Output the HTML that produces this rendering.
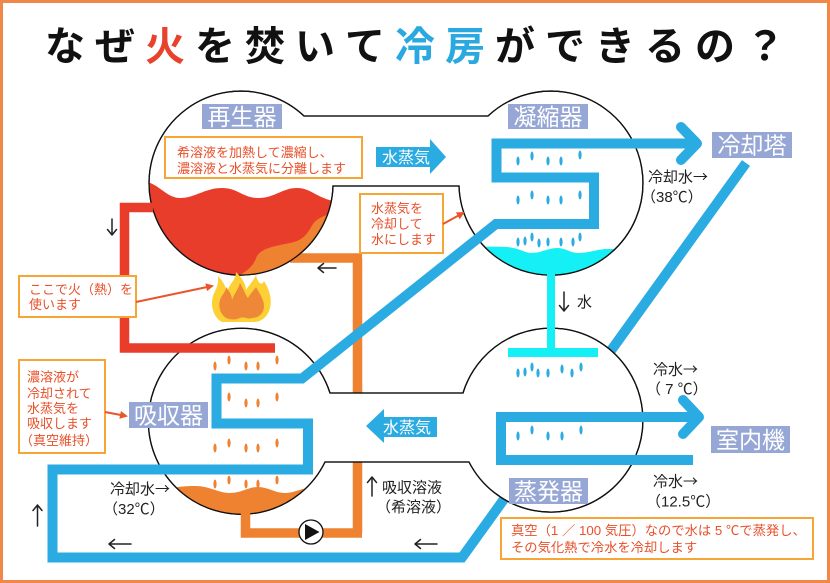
<!DOCTYPE html>
<html><head><meta charset="utf-8">
<style>
html,body{margin:0;padding:0;background:#fff;}
svg{display:block;}
text{font-family:"Liberation Sans","Noto Sans CJK JP",sans-serif;}
.cj{font-family:"Noto Sans CJK JP","Liberation Sans",sans-serif;}
</style></head>
<body>
<svg width="830" height="583" viewBox="0 0 830 583" xmlns="http://www.w3.org/2000/svg">
<defs>
  <clipPath id="c1"><circle cx="241" cy="183" r="92"/></clipPath>
  <clipPath id="c2"><circle cx="551" cy="183" r="92"/></clipPath>
  <clipPath id="c3"><circle cx="241" cy="421" r="93"/></clipPath>
  <marker id="ah" markerWidth="8" markerHeight="8" refX="6" refY="4" orient="auto" markerUnits="userSpaceOnUse">
    <path d="M0,0 L8,4 L0,8 Z" fill="#EA552B"/>
  </marker>
</defs>

<rect x="1.5" y="1.5" width="827" height="580" fill="#fff" stroke="#F0884A" stroke-width="3"/>

<!-- title -->
<g font-size="40" font-weight="bold" fill="#111">
  <text x="45" y="60">な</text>
  <text x="95" y="60">ぜ</text>
  <text x="145" y="60" fill="#E8412C">火</text>
  <text x="195" y="60">を</text>
  <text x="245" y="60">焚</text>
  <text x="295" y="60">い</text>
  <text x="345" y="60">て</text>
  <text x="395" y="60" fill="#2AA9E0">冷</text>
  <text x="445" y="60" fill="#2AA9E0">房</text>
  <text x="495" y="60">が</text>
  <text x="545" y="60">で</text>
  <text x="595" y="60">き</text>
  <text x="645" y="60">る</text>
  <text x="695" y="60">の</text>
  <text x="745" y="60">？</text>
</g>

<!-- pipes drawn behind vessels -->
<path d="M746,163 L462,557.5 L52.5,557.5 L52.5,469.5 L150,469.5" fill="none" stroke="#2AABE2" stroke-width="10" stroke-linejoin="miter"/>
<path d="M357.5,258 L357.5,533" fill="none" stroke="#EE8230" stroke-width="9.5"/>

<!-- vessel shapes -->
<path d="M304,116 L488,116 A92,92 0 1 1 459,186 L333,186 A92,92 0 1 1 304,116 Z" fill="#fff" stroke="#111" stroke-width="1.3"/>
<path d="M330,393 L463,393 A92,92 0 1 1 469,462 L325,462 A93,93 0 1 1 330,393 Z" fill="#fff" stroke="#111" stroke-width="1.3"/>

<!-- liquids -->
<g clip-path="url(#c1)">
  <path d="M140,181 C158,181 165,198 180,198 C195,198 205,188 222,188 C238,188 243,198 258,198 C275,198 282,188 297,188 C312,188 318,200 340,202 L340,290 L140,290 Z" fill="#E83D2B"/>
  <path d="M340,212 C330,213 318,217 313,224 C308,232 305,240 290,243 C275,246 262,248 257,256 C254,264 250,270 236,277 L225,290 L340,290 Z" fill="#EE8230"/>
</g>
<g clip-path="url(#c2)">
  <path d="M455,250 C470,247 490,246 507,247 C520,248 524,253 532,253 C541,253 548,248 557,248 C566,248 570,253 578,253 C588,253 595,250 605,249 L650,249 L650,290 L455,290 Z" fill="#14F0F5"/>
</g>
<g clip-path="url(#c3)">
  <path d="M140,491 C165,490 175,486 195,486 C210,486 218,493 230,493 C242,493 248,487 258,487 C268,487 275,493 285,493 C295,493 300,488 312,488 L340,488 L340,520 L140,520 Z" fill="#EE8230"/>
</g>

<!-- top orange pipe stub into regenerator -->
<path d="M290,258 L362,258" fill="none" stroke="#EE8230" stroke-width="9.5"/>

<!-- outline redraw -->
<path d="M304,116 L488,116 A92,92 0 1 1 459,186 L333,186 A92,92 0 1 1 304,116 Z" fill="none" stroke="#111" stroke-width="1.3"/>
<path d="M330,393 L463,393 A92,92 0 1 1 469,462 L325,462 A93,93 0 1 1 330,393 Z" fill="none" stroke="#111" stroke-width="1.3"/>

<!-- orange outlet + pump -->
<path d="M245.5,505 L245.5,533 L362,533" fill="none" stroke="#EE8230" stroke-width="9.5"/>
<circle cx="311" cy="532" r="12" fill="#fff" stroke="#111" stroke-width="1.3"/>
<polygon points="305,524 305,540 319.5,532" fill="#111"/>

<!-- red pipe -->
<path d="M153,207.5 L124.5,207.5 L124.5,348 L275,348" fill="none" stroke="#E83D2B" stroke-width="9.5"/>

<!-- blue cooling pipe -->
<path d="M140,469.5 L308,469.5 L308,423.5 L216.5,423.5 L216.5,378.5 L302,378.5 L496,224 L594,224 L594,177.5 L496.5,177.5 L496.5,143.5 L697,143.5" fill="none" stroke="#2AABE2" stroke-width="10" stroke-linejoin="miter"/>
<path d="M681,127 L697,143.5 L681,160" fill="none" stroke="#2AABE2" stroke-width="10" stroke-linecap="round" stroke-linejoin="round"/>

<!-- chilled water -->
<path d="M693,460 L501,460 L501,417 L698,417" fill="none" stroke="#2AABE2" stroke-width="10"/>
<path d="M683,400 L699,417 L683,434" fill="none" stroke="#2AABE2" stroke-width="10" stroke-linecap="round" stroke-linejoin="round"/>

<!-- cyan condensate -->
<rect x="547" y="255" width="8" height="98" fill="#14F0F5"/>
<rect x="508" y="348" width="90" height="9" fill="#14F0F5"/>

<!-- drops blue -->
<g fill="#2AABE2">
  <ellipse cx="518" cy="161" rx="1.6" ry="4.5"/><ellipse cx="532" cy="156" rx="1.6" ry="4.5"/><ellipse cx="548" cy="161" rx="1.6" ry="4.5"/><ellipse cx="561" cy="161" rx="1.6" ry="4.5"/><ellipse cx="580" cy="155" rx="1.6" ry="4.5"/>
  <ellipse cx="518" cy="200" rx="1.6" ry="4.5"/><ellipse cx="532" cy="195" rx="1.6" ry="4.5"/><ellipse cx="548" cy="200" rx="1.6" ry="4.5"/><ellipse cx="561" cy="200" rx="1.6" ry="4.5"/><ellipse cx="580" cy="195" rx="1.6" ry="4.5"/>
  <ellipse cx="518" cy="242" rx="1.6" ry="4.5"/><ellipse cx="525" cy="241" rx="1.6" ry="4.5"/><ellipse cx="532" cy="237" rx="1.6" ry="4.5"/><ellipse cx="539" cy="243" rx="1.6" ry="4.5"/><ellipse cx="548" cy="242" rx="1.6" ry="4.5"/><ellipse cx="561" cy="242" rx="1.6" ry="4.5"/><ellipse cx="573" cy="242" rx="1.6" ry="4.5"/><ellipse cx="580" cy="237" rx="1.6" ry="4.5"/>
  <ellipse cx="518" cy="373" rx="1.6" ry="4.5"/><ellipse cx="525" cy="372" rx="1.6" ry="4.5"/><ellipse cx="532" cy="367" rx="1.6" ry="4.5"/><ellipse cx="538" cy="373" rx="1.6" ry="4.5"/><ellipse cx="548" cy="373" rx="1.6" ry="4.5"/><ellipse cx="562" cy="369" rx="1.6" ry="4.5"/><ellipse cx="572" cy="373" rx="1.6" ry="4.5"/><ellipse cx="581" cy="367" rx="1.6" ry="4.5"/>
  <ellipse cx="518" cy="436" rx="1.6" ry="4.5"/><ellipse cx="532" cy="430" rx="1.6" ry="4.5"/><ellipse cx="548" cy="436" rx="1.6" ry="4.5"/><ellipse cx="562" cy="436" rx="1.6" ry="4.5"/><ellipse cx="581" cy="430" rx="1.6" ry="4.5"/>
</g>
<!-- drops orange -->
<g fill="#EE8230">
  <ellipse cx="215" cy="366" rx="1.6" ry="4.5"/><ellipse cx="229" cy="360" rx="1.6" ry="4.5"/><ellipse cx="246" cy="366" rx="1.6" ry="4.5"/><ellipse cx="258" cy="366" rx="1.6" ry="4.5"/><ellipse cx="277" cy="360" rx="1.6" ry="4.5"/>
  <ellipse cx="229" cy="397" rx="1.6" ry="4.5"/><ellipse cx="246" cy="403" rx="1.6" ry="4.5"/><ellipse cx="258" cy="403" rx="1.6" ry="4.5"/><ellipse cx="277" cy="397" rx="1.6" ry="4.5"/>
  <ellipse cx="215" cy="448" rx="1.6" ry="4.5"/><ellipse cx="229" cy="443" rx="1.6" ry="4.5"/><ellipse cx="246" cy="448" rx="1.6" ry="4.5"/><ellipse cx="258" cy="448" rx="1.6" ry="4.5"/><ellipse cx="277" cy="443" rx="1.6" ry="4.5"/>
  <ellipse cx="215" cy="484" rx="1.6" ry="4.5"/><ellipse cx="229" cy="480" rx="1.6" ry="4.5"/><ellipse cx="246" cy="484" rx="1.6" ry="4.5"/><ellipse cx="258" cy="484" rx="1.6" ry="4.5"/><ellipse cx="277" cy="480" rx="1.6" ry="4.5"/>
</g>

<!-- flame -->
<path d="M222,322 C214,318 210,306 213,296 C215,290 219,286 218,276 C224,282 226,288 227,292 C229,284 236,280 236,272 C242,278 246,284 246,290 C250,284 254,280 256,275 C258,284 262,286 264,281 C270,290 272,300 270,308 C268,316 262,322 254,322 Z" fill="#FDD135"/>
<path d="M226,318 C220,314 218,306 220,300 C222,294 226,292 226,287 C230,292 232,296 232,300 C234,294 238,290 240,283 C244,290 246,296 248,298 C250,294 254,290 256,287 C260,294 264,300 264,306 C264,314 258,318 252,318 C248,320 244,316 240,318 C236,320 230,320 226,318 Z" fill="#EE8838"/>

<!-- steam arrows -->
<rect x="376" y="147" width="55" height="20" fill="#2AABE2"/>
<polygon points="430,139 446,157 430,174" fill="#2AABE2"/>
<text x="406" y="163" font-size="16" fill="#fff" text-anchor="middle">水蒸気</text>
<rect x="382" y="417" width="55" height="20" fill="#2AABE2"/>
<polygon points="384,409 366,426 384,443" fill="#2AABE2"/>
<text x="407" y="433" font-size="16" fill="#fff" text-anchor="middle">水蒸気</text>

<!-- labels -->
<g font-size="23" fill="#fff" text-anchor="middle">
  <rect x="202" y="104" width="80" height="25" fill="#97A7D5"/><text x="242" y="125">再生器</text>
  <rect x="508" y="104" width="80" height="25" fill="#97A7D5"/><text x="548" y="125">凝縮器</text>
  <rect x="712" y="132" width="80" height="26" fill="#97A7D5"/><text x="752" y="153.5">冷却塔</text>
  <rect x="129" y="402" width="79" height="26" fill="#97A7D5"/><text x="168.5" y="423.5">吸収器</text>
  <rect x="509" y="478" width="79" height="26" fill="#97A7D5"/><text x="548.5" y="499.5">蒸発器</text>
  <rect x="711" y="426" width="79" height="27" fill="#97A7D5"/><text x="750.5" y="448">室内機</text>
</g>

<!-- orange note boxes -->
<g fill="#fff" stroke="#F7A535" stroke-width="2">
  <rect x="165" y="137" width="197" height="41"/>
  <rect x="360" y="194" width="83" height="59"/>
  <rect x="19" y="276" width="117" height="41"/>
  <rect x="19" y="360" width="86" height="93"/>
  <rect x="501" y="518" width="312" height="41"/>
</g>
<g font-size="13" fill="#E8502A">
  <text x="177" y="157">希溶液を加熱して濃縮し、</text>
  <text x="177" y="173">濃溶液と水蒸気に分離します</text>
  <text x="371" y="213">水蒸気を</text>
  <text x="371" y="228.5">冷却して</text>
  <text x="371" y="244">水にします</text>
  <text x="29" y="294">ここで火（熱）を</text>
  <text x="29" y="309">使います</text>
  <text x="27" y="381.5">濃溶液が</text>
  <text x="27" y="398">冷却されて</text>
  <text x="27" y="413">水蒸気を</text>
  <text x="27" y="428">吸収します</text>
  <text x="20" y="445">（真空維持）</text>
  <text x="511" y="535" font-size="13.3">真空（1 ／ 100 気圧）なので水は 5 ℃で蒸発し、</text>
  <text x="511" y="552" font-size="13.3">その気化熱で冷水を冷却します</text>
</g>

<!-- note pointer arrows -->
<g stroke="#EA552B" stroke-width="2" fill="none">
  <line x1="136" y1="302" x2="212" y2="286" marker-end="url(#ah)"/>
  <line x1="443" y1="224" x2="463" y2="213" marker-end="url(#ah)"/>
  <line x1="105" y1="412" x2="126" y2="416" marker-end="url(#ah)"/>
</g>

<!-- black flow arrows -->
<g stroke="#222" stroke-width="1.5" fill="none" stroke-linecap="round" stroke-linejoin="round">
  <path d="M112,219 L112,235 M107.5,229.5 L112,235 L116.5,229.5"/>
  <path d="M336,268 L318,268 M323.5,263.5 L318,268 L323.5,272.5"/>
  <path d="M564,292 L564,311 M559.5,305.5 L564,311 L568.5,305.5"/>
  <path d="M37.5,526 L37.5,505 M33,510.5 L37.5,505 L42,510.5"/>
  <path d="M131,544 L109,544 M114.5,539.5 L109,544 L114.5,548.5"/>
  <path d="M437,544 L415,544 M420.5,539.5 L415,544 L420.5,548.5"/>
  <path d="M372,496 L372,477 M367.5,482.5 L372,477 L376.5,482.5"/>
</g>

<!-- black annotations -->
<g font-size="15" fill="#222">
  <text x="577" y="307">水</text>
  <text x="648" y="182">冷却水<tspan class="cj">→</tspan></text>
  <text x="641" y="202">（38℃）</text>
  <text x="110" y="494">冷却水<tspan class="cj">→</tspan></text>
  <text x="103" y="514">（32℃）</text>
  <text x="382" y="492.5">吸収溶液</text>
  <text x="376" y="512">（希溶液）</text>
  <text x="653" y="374.5">冷水<tspan class="cj">→</tspan></text>
  <text x="646" y="394">（ 7 ℃）</text>
  <text x="653" y="486.5">冷水<tspan class="cj">→</tspan></text>
  <text x="646" y="506.5">（12.5℃）</text>
</g>
</svg>
</body></html>
